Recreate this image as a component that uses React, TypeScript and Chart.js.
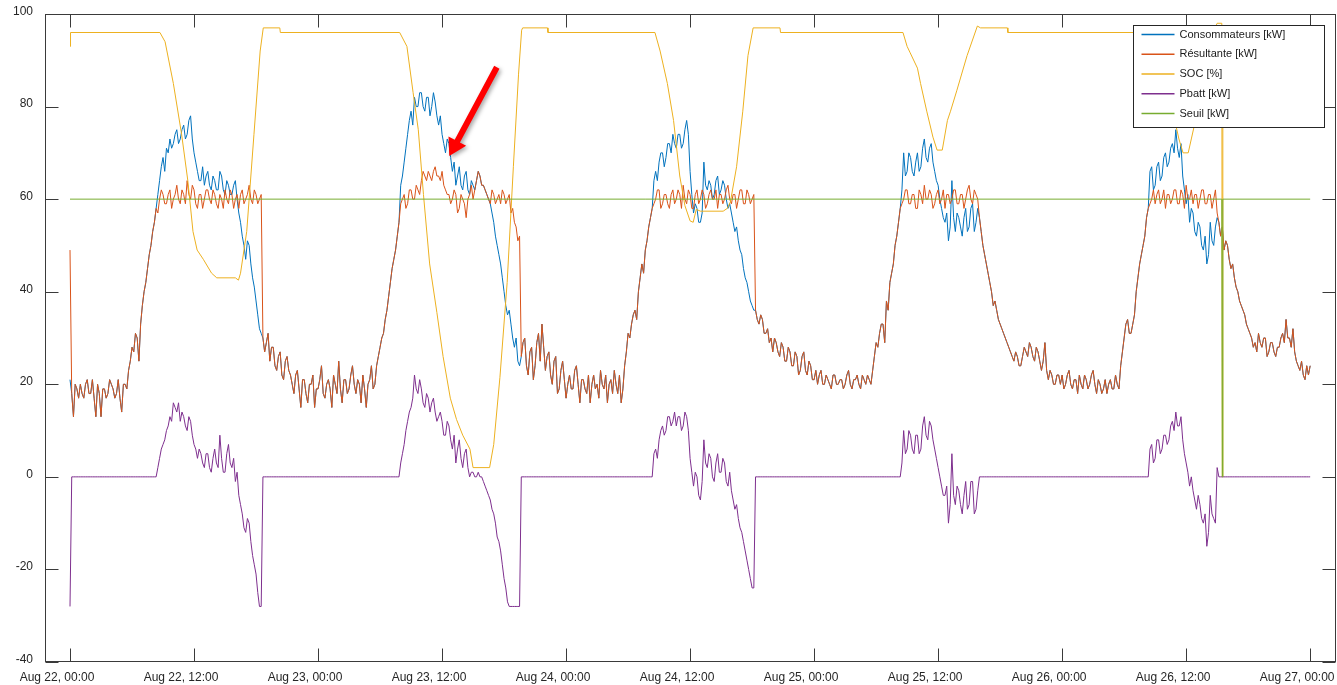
import React, { useEffect, useRef } from "react";
import { Chart, registerables } from "chart.js";

Chart.register(...registerables);

// ---------- axis ticks ----------
const xTickHours = [0, 12, 24, 36, 48, 60, 72, 84, 96, 108, 120];
const xTickLabels = [
  "Aug 22, 00:00", "Aug 22, 12:00", "Aug 23, 00:00", "Aug 23, 12:00",
  "Aug 24, 00:00", "Aug 24, 12:00", "Aug 25, 00:00", "Aug 25, 12:00",
  "Aug 26, 00:00", "Aug 26, 12:00", "Aug 27, 00:00",
];
const yTickValues = [-40, -20, 0, 20, 40, 60, 80, 100];

const seriesNames = ["Consommateurs [kW]", "Résultante [kW]", "SOC [%]", "Pbatt [kW]", "Seuil [kW]"];

// ---------- data: one sample every 10 minutes, one array per day ----------
const cons22 = [
  21,18,13,20,19,17,20,18,17,20,21,18,18,21,17,13,20,18,13,19,
  19,17,18,21,20,19,17,18,21,17,14,20,20,19,23,25,28,27,31,30,
  25,33,37,40,42,45,48,50,53,55,58,61,64,67,69,66,71,70,73,71,
  72,74,75,72,73,75,76,73,74,77,78,73,70,68,66,64,64,67,63,65,
  66,63,62,65,64,62,62,66,65,62,61,64,63,61,61,63,64,60,57,55,
  52,50,47,51,50,46,43,41,38,35,32,31,30,27,29,31,25,28,28,24,
  23,26,27,22,21,25,26,23,22,20,18,22,23,19,15,21,21,18,16,20,
  20,22,15,19,
];
const cons23 = [
  19,21,24,18,17,20,21,19,15,22,20,18,25,19,16,21,21,18,19,22,
  24,20,18,21,20,16,22,19,15,20,21,24,19,20,24,26,28,30,31,34,
  36,39,42,45,47,49,52,55,63,65,68,71,74,77,79,76,82,80,80,83,
  83,80,79,82,82,78,80,83,81,78,76,78,74,72,70,73,72,69,66,68,
  63,65,67,63,62,65,66,62,61,64,63,62,64,66,65,63,63,62,61,60,
  59,57,55,52,50,48,46,43,40,37,35,36,33,30,28,30,25,24,26,29,
  30,24,22,27,28,21,24,29,31,25,33,28,23,26,27,22,20,25,26,18,
  19,23,25,21,
];
const cons24 = [
  17,20,22,19,19,23,24,20,16,21,21,19,18,22,16,20,22,19,20,17,
  23,20,19,22,16,20,21,18,23,20,18,22,16,19,24,27,31,30,33,35,
  36,34,40,43,46,44,49,51,54,56,58,64,66,64,68,70,70,67,69,72,
  72,70,74,72,71,74,74,71,72,75,77,74,66,61,57,59,58,55,55,57,
  68,63,62,64,63,60,61,64,65,61,62,64,63,60,58,59,57,55,53,54,
  51,49,48,45,43,42,40,38,37,36,36,34,33,35,34,31,31,32,29,30,
  27,30,29,27,26,29,28,25,25,28,27,24,24,27,26,22,23,26,27,23,
  22,25,24,21,
];
const cons25 = [
  21,23,20,22,23,20,20,22,21,20,19,22,22,20,20,21,21,19,20,22,
  23,20,19,21,21,22,20,19,22,21,20,22,21,20,23,26,29,28,31,33,
  33,29,38,36,42,44,46,50,52,55,58,62,70,65,66,70,69,66,65,68,
  70,66,67,71,73,69,68,71,72,68,66,64,63,60,58,56,55,57,51,54,
  64,56,53,57,56,54,52,56,58,53,54,58,59,53,55,58,56,53,50,48,
  46,44,42,40,37,38,36,34,33,32,31,30,29,28,27,26,25,27,26,24,
  24,26,28,27,26,29,28,26,25,28,27,25,23,25,29,23,21,23,22,20,
  20,22,22,20,
];
const cons26 = [
  22,19,20,22,23,20,19,21,21,18,22,20,19,22,21,19,20,22,23,20,
  18,21,20,18,19,21,18,20,21,19,19,22,20,19,24,27,30,33,34,31,
  31,33,35,40,43,46,48,50,52,56,58,66,67,62,63,67,68,64,65,69,
  70,67,68,71,72,70,75,71,69,72,65,62,59,61,55,58,57,53,52,55,
  54,50,49,52,46,48,55,51,50,54,56,55,52,54,49,51,50,47,45,46,
  43,41,40,38,37,36,35,33,32,31,30,28,29,27,31,29,28,30,30,26,
  27,29,29,27,26,28,28,30,31,29,34,30,30,28,32,27,25,24,23,25,
  22,21,24,22,24,
];

const res22 = [
  49,18,13,20,19,17,20,18,17,20,21,18,18,21,17,13,20,18,13,19,
  19,17,18,21,20,19,17,18,21,17,14,20,20,19,23,25,28,27,31,30,
  25,33,37,40,42,45,48,50,53,55,58,57,60,62,61,59,59,61,62,58,
  60,61,63,60,59,62,61,59,64,61,60,63,62,59,58,61,61,58,60,62,
  62,60,59,62,61,59,58,61,60,58,62,60,59,62,61,58,60,61,58,61,
  62,59,60,61,63,60,59,62,61,59,60,61,30,27,29,31,25,28,28,24,
  23,26,27,22,21,25,26,23,22,20,18,22,23,19,15,21,21,18,16,20,
  20,22,15,19,
];
const res23 = [
  19,21,24,18,17,20,21,19,15,22,20,18,25,19,16,21,21,18,19,22,
  24,20,18,21,20,16,22,19,15,20,21,24,19,20,24,26,28,30,31,34,
  36,39,42,45,47,49,52,55,59,60,61,58,59,62,62,60,60,63,62,61,
  64,66,65,64,66,65,64,66,67,65,65,64,66,63,62,61,61,59,60,62,
  61,57,58,61,60,59,56,60,61,63,60,62,64,66,65,63,63,62,61,60,
  59,62,61,59,60,61,59,62,61,59,60,61,57,58,55,54,51,52,26,29,
  30,24,22,27,28,21,24,29,31,25,33,28,23,26,27,22,20,25,26,18,
  19,23,25,21,
];
const res24 = [
  17,20,22,19,19,23,24,20,16,21,21,19,18,22,16,20,22,19,20,17,
  23,20,19,22,16,20,21,18,23,20,18,22,16,19,24,27,31,30,33,35,
  36,34,40,43,46,44,49,51,54,56,58,59,60,62,62,58,59,61,61,59,
  58,61,62,59,60,62,61,58,63,60,59,62,61,58,58,61,62,59,60,62,
  61,58,59,61,62,60,60,62,58,61,61,59,60,62,63,60,59,61,61,58,
  60,62,62,59,59,62,61,59,60,61,36,34,33,35,34,31,31,32,29,30,
  27,30,29,27,26,29,28,25,25,28,27,24,24,27,26,22,23,26,27,23,
  22,25,24,21,
];
const res25 = [
  21,23,20,22,23,20,20,22,21,20,19,22,22,20,20,21,21,19,20,22,
  23,20,19,21,21,22,20,19,22,21,20,22,21,20,23,26,29,28,31,33,
  33,29,38,36,42,44,46,50,52,55,58,59,60,62,62,59,59,61,61,58,
  58,62,61,59,63,60,60,62,61,58,59,61,62,59,60,62,58,61,61,59,
  60,62,62,59,59,61,61,58,60,62,63,60,59,62,61,60,56,53,50,48,
  46,44,42,40,37,38,36,34,33,32,31,30,29,28,27,26,25,27,26,24,
  24,26,28,27,26,29,28,26,25,28,27,25,23,25,29,23,21,23,22,20,
  20,22,22,20,
];
const res26 = [
  22,19,20,22,23,20,19,21,21,18,22,20,19,22,21,19,20,22,23,20,
  18,21,20,18,19,21,18,20,21,19,19,22,20,19,24,27,30,33,34,31,
  31,33,35,40,43,46,48,50,52,56,58,59,60,62,59,61,62,59,60,62,
  58,61,61,59,60,62,62,59,59,62,61,58,63,60,60,62,59,61,61,58,
  60,62,62,59,59,61,61,58,60,62,57,55,52,54,49,51,50,47,45,46,
  43,41,40,38,37,36,35,33,32,31,30,28,29,27,31,29,28,30,30,26,
  27,29,29,27,26,28,28,30,31,29,34,30,30,28,32,27,25,24,23,25,
  22,21,24,22,24,
];

const pbatt22 = [
  -28,0,0,0,0,0,0,0,0,0,0,0,0,0,0,0,0,0,0,0,
  0,0,0,0,0,0,0,0,0,0,0,0,0,0,0,0,0,0,0,0,
  0,0,0,0,0,0,0,0,0,0,0,2,4,6,7,8,10,11,13,12,
  16,15,14,16,12,14,13,11,10,13,12,9,7,6,4,6,5,3,2,5,
  5,2,1,4,6,3,2,9,4,1,1,5,7,3,2,4,-1,1,-4,-6,
  -8,-11,-12,-9,-10,-14,-17,-19,-21,-25,-28,-28,0,0,0,0,0,0,0,0,
  0,0,0,0,0,0,0,0,0,0,0,0,0,0,0,0,0,0,0,0,
  0,0,0,0,
];
const pbatt23 = [
  0,0,0,0,0,0,0,0,0,0,0,0,0,0,0,0,0,0,0,0,
  0,0,0,0,0,0,0,0,0,0,0,0,0,0,0,0,0,0,0,0,
  0,0,0,0,0,0,0,0,3,5,7,10,12,14,15,17,22,19,18,21,
  19,16,15,18,17,14,16,17,14,12,13,14,12,9,9,12,11,8,6,9,
  3,6,8,4,2,5,6,2,0,1,1,0,0,1,0,0,-1,-2,-3,-4,
  -5,-7,-8,-10,-13,-14,-16,-19,-22,-24,-27,-28,-28,-28,-28,-28,-28,-28,0,0,
  0,0,0,0,0,0,0,0,0,0,0,0,0,0,0,0,0,0,0,0,
  0,0,0,0,
];
const pbatt24 = [
  0,0,0,0,0,0,0,0,0,0,0,0,0,0,0,0,0,0,0,0,
  0,0,0,0,0,0,0,0,0,0,0,0,0,0,0,0,0,0,0,0,
  0,0,0,0,0,0,0,0,0,0,0,5,6,4,8,10,11,9,10,13,
  13,11,12,14,11,13,13,10,11,14,13,10,4,1,-2,1,0,-4,-5,-1,
  8,3,2,5,4,0,-1,3,5,1,1,4,3,-1,-2,1,-3,-5,-7,-6,
  -9,-11,-12,-14,-16,-18,-20,-22,-24,-24,0,0,0,0,0,0,0,0,0,0,
  0,0,0,0,0,0,0,0,0,0,0,0,0,0,0,0,0,0,0,0,
  0,0,0,0,
];
const pbatt25 = [
  0,0,0,0,0,0,0,0,0,0,0,0,0,0,0,0,0,0,0,0,
  0,0,0,0,0,0,0,0,0,0,0,0,0,0,0,0,0,0,0,0,
  0,0,0,0,0,0,0,0,0,0,0,3,10,5,6,10,9,6,5,9,
  9,5,6,11,13,9,8,12,11,8,6,4,2,0,-2,-4,-4,-2,-10,-6,
  5,-4,-6,-2,-3,-6,-8,-4,-1,-7,-6,-1,-1,-8,-7,-3,0,0,0,0,
  0,0,0,0,0,0,0,0,0,0,0,0,0,0,0,0,0,0,0,0,
  0,0,0,0,0,0,0,0,0,0,0,0,0,0,0,0,0,0,0,0,
  0,0,0,0,
];
const pbatt26 = [
  0,0,0,0,0,0,0,0,0,0,0,0,0,0,0,0,0,0,0,0,
  0,0,0,0,0,0,0,0,0,0,0,0,0,0,0,0,0,0,0,0,
  0,0,0,0,0,0,0,0,0,0,0,6,7,3,4,8,8,5,6,9,
  9,7,8,11,12,10,14,11,11,13,8,5,3,1,-2,0,-3,-5,-7,-4,
  -6,-9,-10,-8,-15,-12,-4,-8,-9,-10,2,0,0,0,0,0,0,0,0,0,
  0,0,0,0,0,0,0,0,0,0,0,0,0,0,0,0,0,0,0,0,
  0,0,0,0,0,0,0,0,0,0,0,0,0,0,0,0,0,0,0,0,
  0,0,0,0,0,
];

// SOC: hours since Aug 22 00:00 and values
const socHours = [
  0, 0.05, 8.7, 9.2, 10.0, 10.8, 11.4, 11.9, 12.3, 12.9, 13.7, 14.2, 16.0, 16.3, 16.5, 17.1, 17.8, 18.4, 18.7, 20.3, 20.35,
  31.9, 32.6, 33.2, 33.7, 34.2, 34.8, 35.5, 36.1, 36.8, 37.4, 38.0, 38.7, 39.0, 40.6, 41.0, 41.6, 42.3, 42.9, 43.4, 43.7, 43.8, 46.2, 46.25,
  56.6, 57.1, 57.8, 58.4, 59.0, 59.5, 60.0, 60.3, 60.6, 61.0, 63.2, 63.6, 63.9, 64.5, 65.1, 65.6, 66.1, 68.7, 68.75,
  80.6, 81.0, 81.3, 82.0, 82.3, 82.9, 83.5, 83.9, 84.4, 84.9, 85.2, 85.8, 86.8, 87.8, 88.1, 90.7, 90.75,
  104.3, 104.8, 105.5, 106.3, 107.0, 107.3, 107.7, 108.2, 108.5, 108.8, 109.6, 110.4, 110.8, 111.0, 111.45, 111.5, 111.55, 120,
];
const socValues = [
  93, 96, 96, 94, 85, 74, 64, 53, 49, 47, 44, 43, 43, 42.5, 44, 53, 74, 92, 97, 97, 96,
  96, 93, 83, 75, 61, 46, 35.5, 26, 17, 12.4, 9, 6, 2, 2, 7, 21.5, 42, 67, 87, 96.5, 97, 97, 96,
  96, 92, 85, 77, 65, 58.6, 55.3, 55, 57.8, 57.4, 57.4, 58, 59.4, 67, 79, 91, 97, 97, 96,
  96, 93, 91.6, 88.3, 85, 79, 73.4, 70.6, 70.6, 77, 79, 83.4, 91, 97.4, 97, 97, 96,
  96, 94, 89, 82, 76, 73, 70, 70, 73, 76, 86, 94, 97, 98, 98, 0, 97, 97,
];

const seuilHours = [0, 111.45, 111.5, 111.55, 120];
const seuilValues = [60, 60, 0, 60, 60];

// annotation arrow (data coordinates: hours, value)
const arrowTail = { h: 41.3, v: 88.5 };
const arrowTip = { h: 36.7, v: 69.3 };

// ---------- styling ----------
const COLORS = ["#0072BD", "#D95319", "#EDB120", "#7E2F8E", "#77AC30"];
const FONT = '"Liberation Sans", Arial, Helvetica, sans-serif';
const SAMPLES_PER_HOUR = 6;

function dailySeries(days: number[][]) {
  const pts: { x: number; y: number }[] = [];
  days.forEach((arr, d) => arr.forEach((v, i) => pts.push({ x: d * 24 + i / SAMPLES_PER_HOUR, y: v })));
  return pts;
}
function pairSeries(h: number[], v: number[]) {
  return h.map((x, i) => ({ x, y: v[i] }));
}

const framePlugin = {
  id: "matlabFrame",
  afterDatasetsDraw(chart: any) {
    const { ctx, chartArea: a, scales } = chart;
    const xs = scales.x;
    const ys = scales.y;
    ctx.save();
    const L = Math.round(a.left) + 0.5;
    const R = Math.round(a.right) - 0.5;
    const T = Math.round(a.top) + 0.5;
    const B = Math.round(a.bottom) - 0.5;
    ctx.strokeStyle = "#3a3a3a";
    ctx.lineWidth = 1;
    ctx.strokeRect(L, T, R - L, B - T);
    const tl = 13;
    ctx.beginPath();
    xTickHours.forEach((h) => {
      const px = Math.round(xs.getPixelForValue(h)) + 0.5;
      ctx.moveTo(px, B);
      ctx.lineTo(px, B - tl);
      ctx.moveTo(px, T);
      ctx.lineTo(px, T + tl);
    });
    yTickValues.forEach((v) => {
      const py = Math.round(ys.getPixelForValue(v)) + 0.5;
      ctx.moveTo(L, py);
      ctx.lineTo(L + tl, py);
      ctx.moveTo(R, py);
      ctx.lineTo(R - tl, py);
    });
    ctx.stroke();

    ctx.fillStyle = "#262626";
    ctx.font = `12px ${FONT}`;
    ctx.textAlign = "center";
    ctx.textBaseline = "middle";
    xTickHours.forEach((h, i) => {
      ctx.fillText(xTickLabels[i], xs.getPixelForValue(h) - 13, a.bottom + 16);
    });
    ctx.textAlign = "right";
    yTickValues.forEach((v) => {
      ctx.fillText(String(v), a.left - 12, ys.getPixelForValue(v) - 2.5);
    });

    // legend
    const lw = 191;
    const lh = 102;
    const lx = Math.round(a.right - 203) + 0.5;
    const ly = Math.round(a.top + 11) + 0.5;
    ctx.fillStyle = "#ffffff";
    ctx.fillRect(lx, ly, lw, lh);
    ctx.strokeStyle = "#262626";
    ctx.strokeRect(lx, ly, lw, lh);
    ctx.font = `11px ${FONT}`;
    ctx.textAlign = "left";
    ctx.textBaseline = "middle";
    seriesNames.forEach((name, i) => {
      const yy = ly + 9 + i * 19.75;
      ctx.strokeStyle = COLORS[i];
      ctx.lineWidth = 1.5;
      ctx.beginPath();
      ctx.moveTo(lx + 8, yy);
      ctx.lineTo(lx + 41, yy);
      ctx.stroke();
      ctx.fillStyle = "#1a1a1a";
      ctx.fillText(name, lx + 46, yy);
    });

    // red arrow annotation
    const tx = xs.getPixelForValue(arrowTail.h);
    const ty = ys.getPixelForValue(arrowTail.v);
    const px = xs.getPixelForValue(arrowTip.h);
    const py = ys.getPixelForValue(arrowTip.v);
    const ang = Math.atan2(py - ty, px - tx);
    const len = Math.hypot(px - tx, py - ty);
    const headLen = 17;
    const headW = 10;
    const shaftW = 3;
    ctx.translate(tx, ty);
    ctx.rotate(ang);
    ctx.shadowColor = "rgba(0,0,0,0.35)";
    ctx.shadowBlur = 4;
    ctx.shadowOffsetX = 2;
    ctx.shadowOffsetY = 2;
    ctx.fillStyle = "#ff0000";
    ctx.beginPath();
    ctx.moveTo(0, -shaftW);
    ctx.lineTo(len - headLen, -shaftW);
    ctx.lineTo(len - headLen, -headW);
    ctx.lineTo(len, 0);
    ctx.lineTo(len - headLen, headW);
    ctx.lineTo(len - headLen, shaftW);
    ctx.lineTo(0, shaftW);
    ctx.closePath();
    ctx.fill();
    ctx.restore();
  },
};

export default function App() {
  const canvasRef = useRef<HTMLCanvasElement | null>(null);

  useEffect(() => {
    const canvas = canvasRef.current;
    if (!canvas) return;
    const ds = (data: any[], i: number, order: number) => ({
      label: seriesNames[i],
      data,
      borderColor: COLORS[i],
      backgroundColor: COLORS[i],
      borderWidth: 1,
      pointRadius: 0,
      fill: false,
      tension: 0,
      order,
    });
    const chart = new Chart(canvas, {
      type: "line",
      data: {
        datasets: [
          ds(dailySeries([cons22, cons23, cons24, cons25, cons26]), 0, 5),
          ds(dailySeries([res22, res23, res24, res25, res26]), 1, 4),
          ds(pairSeries(socHours, socValues), 2, 3),
          ds(dailySeries([pbatt22, pbatt23, pbatt24, pbatt25, pbatt26]), 3, 2),
          ds(pairSeries(seuilHours, seuilValues), 4, 1),
        ],
      },
      options: {
        responsive: false,
        animation: false,
        events: [],
        parsing: false,
        layout: { padding: { left: 45, right: 1, top: 14, bottom: 23 } },
        scales: {
          x: { type: "linear", min: -2.42, max: 122.5, display: false },
          y: { type: "linear", min: -40, max: 100, display: false },
        },
        plugins: {
          legend: { display: false },
          tooltip: { enabled: false },
        },
      },
      plugins: [framePlugin],
    } as any);
    return () => chart.destroy();
  }, []);

  return (
    <div style={{ position: "fixed", left: 0, top: 0, width: 1337, height: 685, background: "#fff" }}>
      <canvas ref={canvasRef} width={1337} height={685} style={{ width: 1337, height: 685, display: "block" }} />
    </div>
  );
}
